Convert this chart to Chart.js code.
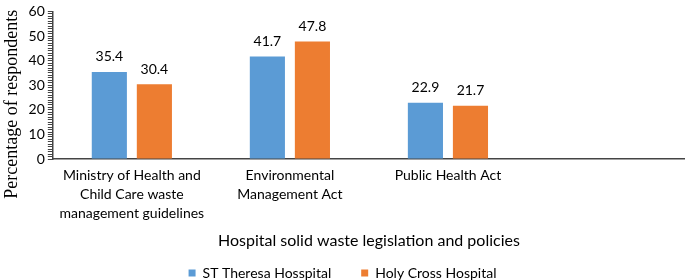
<!DOCTYPE html>
<html>
<head>
<meta charset="utf-8">
<script src="https://cdn.jsdelivr.net/npm/chart.js@4"></script>
<style>
  html, body { margin: 0; padding: 0; background: #fff; }
  #wrap { width: 685px; height: 280px; }
</style>
</head>
<body>
<div id="wrap"><canvas id="chart"></canvas></div>
<script>
const categories = [
  ["Ministry of Health and", "Child Care waste", "management guidelines"],
  ["Environmental", "Management Act"],
  "Public Health Act",
  ""
];
const stTheresa = [35.4, 41.7, 22.9, null];
const holyCross = [30.4, 47.8, 21.7, null];
const seriesNames = ["ST Theresa Hosspital", "Holy Cross Hospital"];
const yTitle = "Percentage of respondents";

const FONT = "Lato, 'Open Sans', sans-serif";
const SERIF = "'Liberation Serif', 'Times New Roman', serif";

// value labels above each bar
const barValues = {
  id: "barValues",
  afterDatasetsDraw(chart) {
    const ctx = chart.ctx;
    ctx.save();
    ctx.font = "14px " + FONT;
    ctx.fillStyle = "#000";
    ctx.textAlign = "center";
    ctx.textBaseline = "middle";
    chart.data.datasets.forEach((ds, i) => {
      chart.getDatasetMeta(i).data.forEach((bar, j) => {
        if (ds.data[j] == null) return;
        ctx.fillText(ds.data[j].toFixed(1), bar.x, bar.y - 15);
      });
    });
    ctx.restore();
  }
};

// y title sits lower than the axis centre in the original
const yTitleDraw = {
  id: "yTitleDraw",
  afterDraw(chart) {
    const ctx = chart.ctx;
    const y = chart.scales.y;
    ctx.save();
    ctx.font = "18px " + SERIF;
    ctx.fillStyle = "#000";
    ctx.textAlign = "center";
    ctx.textBaseline = "middle";
    ctx.translate(y.left + 12, (y.top + y.bottom) / 2 + 19);
    ctx.rotate(-Math.PI / 2);
    ctx.fillText(yTitle, 0, 0);
    ctx.restore();
  }
};

// wide gap between legend items, but keep the legend box short
const legendTight = {
  id: "legendTight",
  beforeInit(chart) {
    const lg = chart.legend;
    const fit = lg.fit;
    const draw = lg.draw;
    lg.fit = function () {
      fit.call(this);
      this.height = 30;
    };
    lg.draw = function () {
      const top = this.top;
      this.top = top - 14;
      draw.call(this);
      this.top = top;
    };
  }
};

new Chart(document.getElementById("chart"), {
  type: "bar",
  data: {
    labels: categories,
    datasets: [
      {
        label: seriesNames[0],
        data: stTheresa,
        backgroundColor: "#5B9BD5",
        barPercentage: 0.78,
        categoryPercentage: 0.57
      },
      {
        label: seriesNames[1],
        data: holyCross,
        backgroundColor: "#ED7D31",
        barPercentage: 0.78,
        categoryPercentage: 0.57
      }
    ]
  },
  options: {
    responsive: true,
    maintainAspectRatio: false,
    animation: false,
    layout: { padding: { top: 4, right: 0, left: 0, bottom: 0 } },
    scales: {
      x: {
        grid: { display: false, drawTicks: false },
        border: { display: true, color: "#444", width: 1.5 },
        ticks: {
          color: "#000",
          font: { family: FONT, size: 14, lineHeight: 1.35 },
          padding: 7,
          maxRotation: 0,
          autoSkip: false
        },
        title: {
          display: true,
          text: "Hospital solid waste legislation and policies",
          color: "#000",
          font: { family: FONT, size: 16 },
          padding: { top: 1, bottom: 0 }
        }
      },
      y: {
        min: 0,
        max: 60,
        grid: {
          display: true,
          drawOnChartArea: false,
          drawTicks: true,
          tickLength: 5,
          color: "#444"
        },
        border: { display: true, color: "#444", width: 1.5 },
        ticks: {
          stepSize: 1,
          autoSkip: false,
          color: "#000",
          padding: 3,
          font: { family: FONT, size: 14 },
          callback: (v) => (v % 10 === 0 ? v : "")
        },
        title: {
          display: true,
          text: yTitle,
          color: "transparent",
          font: { family: SERIF, size: 18 },
          padding: { top: 0, bottom: 4 }
        }
      }
    },
    plugins: {
      legend: {
        position: "bottom",
        labels: {
          color: "#000",
          boxWidth: 7,
          boxHeight: 7,
          padding: 30,
          font: { family: FONT, size: 14 }
        }
      },
      tooltip: { enabled: false }
    }
  },
  plugins: [barValues, yTitleDraw, legendTight]
});
</script>
</body>
</html>
